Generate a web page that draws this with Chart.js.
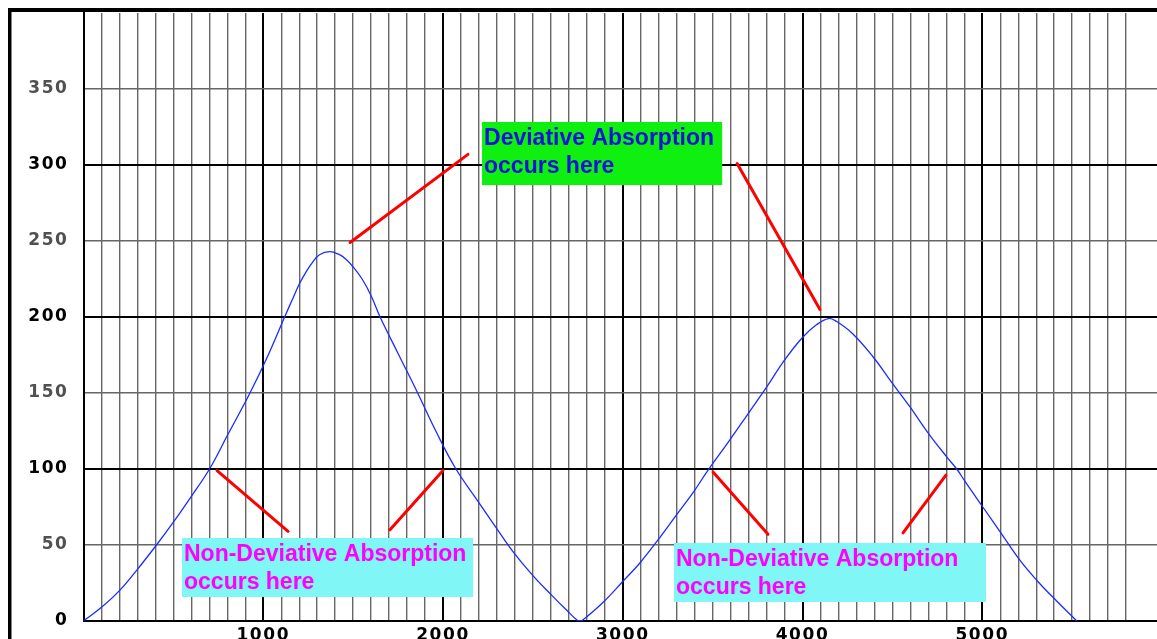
<!DOCTYPE html>
<html>
<head>
<meta charset="utf-8">
<script src="https://cdn.jsdelivr.net/npm/chart.js@4/dist/chart.umd.min.js"></script>
<style>
  html, body { margin: 0; padding: 0; background: #fff; }
  #c { display: block; }
</style>
</head>
<body>
<canvas id="c" width="1157" height="639"></canvas>
<script>
// ---- data ----
const curveX = [0, 100, 200, 300, 406, 500, 600, 701, 800, 926, 1020, 1119, 1160, 1202, 1240, 1274, 1313, 1369, 1424, 1460, 1500, 1550, 1600, 1650, 1750, 1855, 1960, 2067, 2187, 2298, 2387, 2499, 2604, 2680, 2752, 2770, 2888, 3000, 3094, 3194, 3300, 3400, 3467, 3595, 3695, 3801, 3890, 3996, 4079, 4145, 4190, 4279, 4391, 4496, 4597, 4697, 4802, 4858, 4903, 5003, 5109, 5209, 5309, 5415, 5526];
const curveY = [0, 9, 20, 34, 50, 65, 82, 100, 122, 150, 173, 200, 211, 222, 230, 236, 241, 243, 241, 238, 233, 225, 214, 200, 176, 151, 125, 101, 80, 61, 46, 30, 17, 8, 0, 0, 12, 26, 38, 53, 70, 86, 98, 119, 136, 154, 170, 186, 195, 199, 197, 189, 174, 157, 141, 124, 108, 100, 92, 75, 57, 40, 26, 13, 0];

// red pointer lines: start / end in data units
const pointerX1 = [743, 1705, 1483, 3636, 3502, 4559];
const pointerY1 = [99, 60, 249, 301, 98, 58];
const pointerX2 = [1138, 2000, 2139, 4097, 3808, 4798];
const pointerY2 = [59, 99, 307, 205, 57, 96];

// annotation boxes (data units) and their text
const noteLeft   = [548, 2217, 3285];
const noteRight  = [2167, 3553, 5021];
const noteTop    = [54.6, 328.3, 51.3];
const noteBottom = [15.8, 286.8, 12.5];
const noteLine1  = ["Non-Deviative Absorption", "Deviative Absorption", "Non-Deviative Absorption"];
const noteLine2  = ["occurs here", "occurs here", "occurs here"];
const noteKind   = ["non", "dev", "non"];

// axes
const xTickLabels = [1000, 2000, 3000, 4000, 5000];
const yTickLabels = [0, 50, 100, 150, 200, 250, 300, 350];
const xMin = 0, xMax = 5972, yMin = 0, yMax = 400;

// ---- styles ----
const boxFill = { non: '#80f6f6', dev: '#10f010' };
const textFill = { non: '#ff00ff', dev: '#1212d8' };

const pointerSets = pointerX1.map((x, i) => ({
  data: [{ x: x, y: pointerY1[i] }, { x: pointerX2[i], y: pointerY2[i] }],
  borderColor: '#ff0000',
  borderWidth: 3,
  pointRadius: 0,
  tension: 0,
  fill: false,
  borderCapStyle: 'round'
}));

const framePlugin = {
  id: 'frame',
  beforeDraw(chart) {
    const ctx = chart.ctx;
    ctx.save();
    ctx.fillStyle = '#ffffff';
    ctx.fillRect(0, 0, chart.width, chart.height);
    ctx.fillStyle = '#000000';
    ctx.fillRect(8, 8, chart.width - 8, 4);
    ctx.fillRect(8, 8, 3.5, chart.height - 8);
    ctx.restore();
    ctx.letterSpacing = '1.6px';
  },
  beforeDatasetsDraw(chart) {
    chart.ctx.letterSpacing = '0px';
  },
  afterDatasetsDraw(chart) {
    const ctx = chart.ctx;
    const xs = chart.scales.x, ys = chart.scales.y;
    ctx.save();
    ctx.letterSpacing = '0px';
    for (let i = 0; i < noteLeft.length; i++) {
      const l = xs.getPixelForValue(noteLeft[i]);
      const r = xs.getPixelForValue(noteRight[i]);
      const t = ys.getPixelForValue(noteTop[i]);
      const b = ys.getPixelForValue(noteBottom[i]);
      const k = noteKind[i];
      ctx.fillStyle = boxFill[k];
      ctx.fillRect(l, t, r - l, b - t);
      ctx.fillStyle = textFill[k];
      ctx.font = 'bold 23px "Liberation Sans", Arial, sans-serif';
      ctx.textAlign = 'left';
      ctx.textBaseline = 'alphabetic';
      ctx.fillText(noteLine1[i], l + 2, t + 23);
      ctx.fillText(noteLine2[i], l + 2, t + 51);
    }
    ctx.restore();
  }
};

new Chart(document.getElementById('c'), {
  type: 'line',
  data: {
    datasets: [{
      data: curveX.map((x, i) => ({ x: x, y: curveY[i] })),
      borderColor: '#1a2cff',
      borderWidth: 1.3,
      pointRadius: 0,
      tension: 0.4,
      fill: false
    }].concat(pointerSets)
  },
  options: {
    responsive: false,
    animation: false,
    layout: { padding: { top: 13, left: 0, right: 0, bottom: 0 } },
    plugins: { legend: { display: false }, tooltip: { enabled: false } },
    scales: {
      x: {
        type: 'linear',
        min: xMin, max: xMax,
        afterFit(s) { s.height = 18; s.paddingLeft = 0; s.paddingRight = 0; },
        border: { display: true, color: '#000', width: 2 },
        grid: {
          drawTicks: false,
          color(c) {
            const v = Math.round(c.tick.value);
            if (v % 100 !== 0) return 'rgba(0,0,0,0)';
            return v % 1000 === 0 ? '#000000' : '#666666';
          },
          lineWidth(c) {
            const v = Math.round(c.tick.value);
            return v % 1000 === 0 ? 2 : 1.4;
          }
        },
        ticks: {
          stepSize: 100,
          autoSkip: false,
          maxRotation: 0,
          padding: 4,
          color: '#000',
          font: { family: '"DejaVu Sans", Verdana, sans-serif', weight: 'bold', size: 17 },
          callback(v) { return xTickLabels.includes(Math.round(v)) ? String(Math.round(v)) : ''; }
        }
      },
      y: {
        type: 'linear',
        min: yMin, max: yMax,
        afterFit(s) { s.width = 83.5; s.paddingTop = 0; s.paddingBottom = 0; },
        border: { display: true, color: '#000', width: 2 },
        grid: {
          drawTicks: false,
          color(c) {
            const v = Math.round(c.tick.value);
            if (v === yMax) return 'rgba(0,0,0,0)';
            return v % 100 === 0 ? '#000000' : '#666666';
          },
          lineWidth(c) {
            const v = Math.round(c.tick.value);
            return v % 100 === 0 ? 2 : 1.5;
          }
        },
        ticks: {
          stepSize: 50,
          padding: 15,
          color(c) { return Math.round(c.tick.value) % 100 === 0 ? '#000000' : '#505050'; },
          font: { family: '"DejaVu Sans", Verdana, sans-serif', weight: 'bold', size: 17 },
          callback(v) { return yTickLabels.includes(Math.round(v)) ? String(Math.round(v)) : ''; }
        }
      }
    }
  },
  plugins: [framePlugin]
});
</script>
</body>
</html>
